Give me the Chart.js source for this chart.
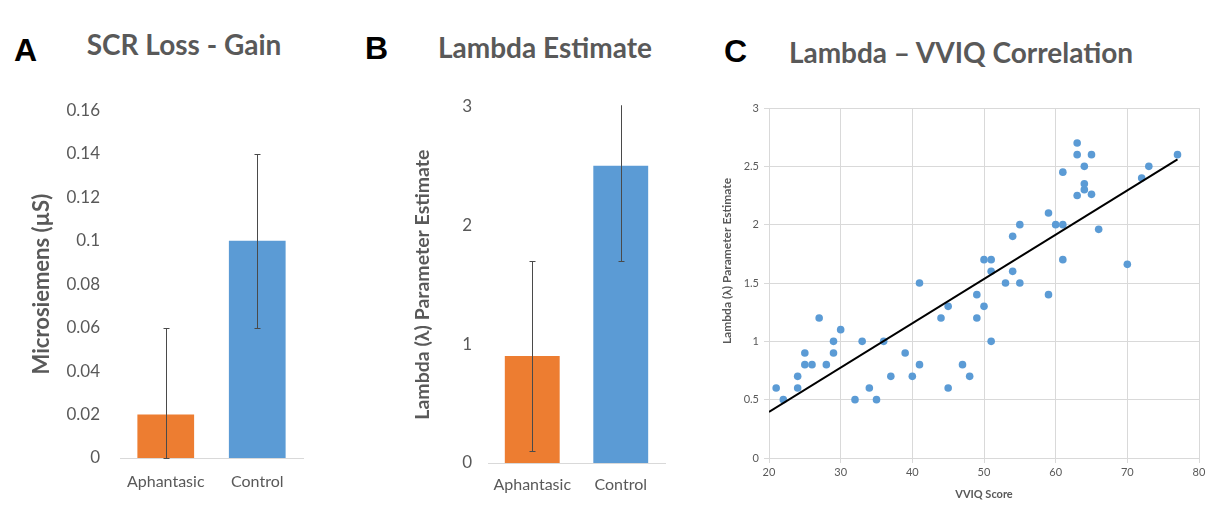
<!DOCTYPE html>
<html>
<head>
<meta charset="utf-8">
<script src="https://cdn.jsdelivr.net/npm/chart.js@4.4.0/dist/chart.umd.min.js"></script>
<style>
  body { margin: 0; background: #fff; width: 1209px; height: 506px; overflow: hidden; position: relative; font-family: Lato, sans-serif; }
  canvas { position: absolute; }
  .letter { position: absolute; font-family: "Liberation Sans", Arial, sans-serif; font-weight: bold; font-size: 32px; line-height: 32px; color: #000; }
  .title { position: absolute; width: 400px; text-align: center; white-space: nowrap; font-family: Lato, sans-serif; font-weight: bold; font-size: 28px; line-height: 28px; color: #595959; }
</style>
</head>
<body>
<div class="letter" style="left:14px;top:34px">A</div>
<div class="letter" style="left:365px;top:32px">B</div>
<div class="letter" style="left:724px;top:35px">C</div>
<div class="title" style="left:-16px;top:30px">SCR Loss - Gain</div>
<div class="title" style="left:345px;top:33px">Lambda Estimate</div>
<div class="title" style="left:761px;top:38px">Lambda – VVIQ Correlation</div>

<canvas id="chartA" width="320" height="420" style="left:0px;top:80px"></canvas>
<canvas id="chartB" width="350" height="420" style="left:330px;top:80px"></canvas>
<canvas id="chartC" width="509" height="426" style="left:700px;top:80px"></canvas>

<script>
var groups = ['Aphantasic', 'Control'];
var barColors = ['#ED7D31', '#5B9BD5'];

// panel A
var scrValues = [0.02, 0.1];
var scrErrLow = [0, 0.06];
var scrErrHigh = [0.06, 0.14];

// panel B
var lambdaValues = [0.9, 2.5];
var lambdaErrLow = [0.1, 1.7];
var lambdaErrHigh = [1.7, 3.3];

// panel C
var vviqScores = [21, 22, 24, 24, 25, 25, 26, 27, 28, 29, 29, 30, 32, 33, 34, 35, 36, 37, 39, 40,
  41, 41, 44, 45, 45, 47, 48, 49, 49, 50, 51, 53, 55, 59, 50, 51, 51, 54, 54, 55,
  59, 60, 61, 61, 70, 66, 61, 63, 65, 64, 64, 64, 63, 65, 63, 72, 73, 77];
var lambdaScores = [0.6, 0.5, 0.7, 0.6, 0.9, 0.8, 0.8, 1.2, 0.8, 1.0, 0.9, 1.1, 0.5, 1.0, 0.6, 0.5, 1.0, 0.7, 0.9, 0.7,
  0.8, 1.5, 1.2, 1.3, 0.6, 0.8, 0.7, 1.4, 1.2, 1.3, 1.0, 1.5, 1.5, 1.4, 1.7, 1.7, 1.6, 1.6, 1.9, 2.0,
  2.1, 2.0, 2.0, 1.7, 1.66, 1.96, 2.45, 2.25, 2.26, 2.3, 2.35, 2.5, 2.6, 2.6, 2.7, 2.4, 2.5, 2.6];
var trendX = [20, 77];
var trendY = [0.395, 2.56];

var grey = '#595959';

function plainTick(v) { return String(+v.toFixed(2)); }

var errorBars = {
  id: 'errorBars',
  afterDatasetsDraw: function(chart, args, opts) {
    var ctx = chart.ctx;
    var a = chart.chartArea;
    var yScale = chart.scales.y;
    var meta = chart.getDatasetMeta(0);
    ctx.save();
    ctx.beginPath();
    ctx.rect(a.left, a.top - 1, a.right - a.left, a.bottom - a.top + 2);
    ctx.clip();
    ctx.strokeStyle = '#4a4a4a';
    ctx.lineWidth = 1;
    meta.data.forEach(function(bar, i) {
      var x = Math.round(bar.x) + 0.5;
      var y1 = Math.round(yScale.getPixelForValue(opts.low[i])) + 0.5;
      var y2 = Math.round(yScale.getPixelForValue(opts.high[i])) + 0.5;
      ctx.beginPath();
      ctx.moveTo(x, y1); ctx.lineTo(x, y2);
      ctx.moveTo(x - 3, y1); ctx.lineTo(x + 3, y1);
      ctx.moveTo(x - 3, y2); ctx.lineTo(x + 3, y2);
      ctx.stroke();
    });
    ctx.restore();
  }
};

// y title for panel C sits a little above the middle of the axis
var sideTitle = {
  id: 'sideTitle',
  afterDraw: function(chart, args, opts) {
    var ctx = chart.ctx;
    ctx.save();
    ctx.translate(opts.x, opts.y);
    ctx.rotate(-Math.PI / 2);
    ctx.font = 'bold 12px Lato';
    ctx.fillStyle = grey;
    ctx.textAlign = 'center';
    ctx.textBaseline = 'middle';
    ctx.fillText(opts.text, 0, 0);
    ctx.restore();
  }
};

function barChart(id, values, low, high, yMax, step, yTitle, cfg) {
  return new Chart(document.getElementById(id), {
    type: 'bar',
    data: {
      labels: groups,
      datasets: [{
        data: values,
        backgroundColor: barColors,
        barPercentage: 0.62,
        categoryPercentage: 1
      }]
    },
    options: {
      responsive: false,
      animation: false,
      events: [],
      layout: { padding: { left: 0, right: cfg.right, top: cfg.top, bottom: 0 } },
      plugins: {
        legend: { display: false },
        tooltip: { enabled: false },
        errorBars: { low: low, high: high }
      },
      scales: {
        x: {
          grid: { display: false, drawTicks: false },
          border: { color: '#d9d9d9' },
          ticks: { color: grey, font: { family: 'Lato', size: 16 }, padding: cfg.xPad },
          afterFit: function(s) { s.height = cfg.xHeight; }
        },
        y: {
          min: 0, max: yMax,
          grid: { display: false, drawTicks: false },
          border: { display: false },
          ticks: { stepSize: step, color: grey, font: { family: 'Lato', size: 17 }, padding: cfg.yPad, callback: plainTick },
          title: { display: true, text: yTitle, color: grey, font: { family: 'Lato', size: cfg.titleSize, weight: 'bold' }, padding: { top: cfg.titlePad, bottom: 0 } },
          afterFit: function(s) { s.width = cfg.yWidth; }
        }
      }
    },
    plugins: [errorBars]
  });
}

barChart('chartA', scrValues, scrErrLow, scrErrHigh, 0.16, 0.02, 'Microsiemens (µS)',
  { right: 17, top: 20, xPad: 14, xHeight: 42, yPad: 20, yWidth: 120, titleSize: 22, titlePad: 29 });

barChart('chartB', lambdaValues, lambdaErrLow, lambdaErrHigh, 3, 1, 'Lambda (λ) Parameter Estimate',
  { right: 15, top: 25, xPad: 12, xHeight: 37, yPad: 16, yWidth: 158, titleSize: 19.5, titlePad: 81 });

var points = vviqScores.map(function(v, i) { return { x: v, y: lambdaScores[i] }; });
var trend = trendX.map(function(v, i) { return { x: v, y: trendY[i] }; });

new Chart(document.getElementById('chartC'), {
  type: 'scatter',
  data: {
    datasets: [{
      type: 'line',
      data: trend,
      borderColor: '#000',
      borderWidth: 2,
      pointRadius: 0,
      fill: false
    }, {
      data: points,
      backgroundColor: '#5B9BD5',
      borderWidth: 0,
      pointRadius: 3.8
    }]
  },
  options: {
    responsive: false,
    animation: false,
    events: [],
    layout: { padding: { left: 0, right: 10, top: 28, bottom: 0 } },
    plugins: {
      legend: { display: false },
      tooltip: { enabled: false },
      sideTitle: { text: 'Lambda (λ) Parameter Estimate', x: 27, y: 181 }
    },
    scales: {
      x: {
        type: 'linear', min: 20, max: 80,
        grid: { color: '#d9d9d9', tickLength: 5 },
        border: { color: '#d9d9d9' },
        ticks: { stepSize: 10, color: grey, font: { family: 'Lato', size: 11 }, padding: 3 },
        title: { display: true, text: 'VVIQ Score', color: grey, font: { family: 'Lato', size: 11, weight: 'bold' }, padding: { top: 0, bottom: 5 } },
        afterFit: function(s) { s.height = 48; }
      },
      y: {
        min: 0, max: 3,
        grid: { color: '#d9d9d9', tickLength: 5 },
        border: { color: '#d9d9d9' },
        ticks: { stepSize: 0.5, color: grey, font: { family: 'Lato', size: 11 }, padding: 5, callback: plainTick },
        afterFit: function(s) { s.width = 69; }
      }
    }
  },
  plugins: [sideTitle]
});
</script>
</body>
</html>
